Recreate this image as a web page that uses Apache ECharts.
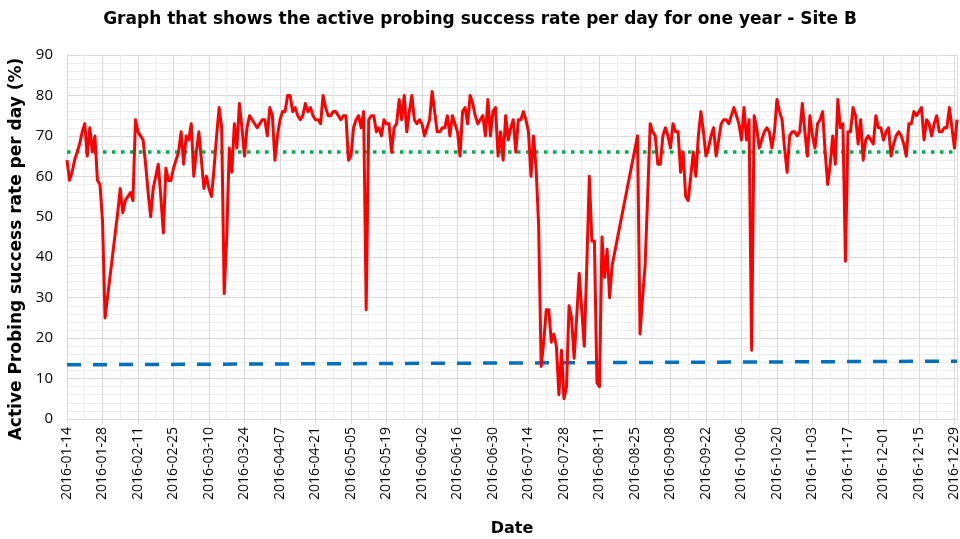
<!DOCTYPE html>
<html><head><meta charset="utf-8">
<script src="https://cdn.jsdelivr.net/npm/echarts@6/dist/echarts.min.js"></script>
<style>html,body{margin:0;padding:0;background:#fff}#c{width:960px;height:539px}</style>
</head><body><div id="c"></div>
<script>
// Daily success rate (%), 2016-01-14 .. 2016-12-30; null = no measurement that day
const startDate = '2016-01-14';
const jan = [64,59,61,64,66,68,71,73,65,72,66,70,59,58,49,25,null,null]; // Jan 14-31
const feb = [null,null,51,57,51,54,55,56,54,74,71,70,69,63,56,50,57,60,63,55,46,62,59,59,62,64,66,71,63];
const mar = [70,69,73,60,66,71,64,57,60,57,55,62,70,77,72,31,45,67,61,73,67,78,72,65,72,75,74,73,72,73,74];
const apr = [74,70,77,75,64,70,74,76,76,80,80,76,77,75,74,75,78,76,77,75,74,74,73,80,77,75,75,76,76,75];
const may = [74,75,75,64,65,72,74,75,72,76,27,74,75,75,71,72,70,74,73,73,66,72,73,79,74,80,71,76,80,74,73];
const jun = [74,73,70,72,74,81,76,71,71,72,72,75,70,75,73,71,65,76,77,73,80,78,75,73,74,75,70,79,70,76];
const jul = [77,65,71,64,75,69,72,74,66,74,74,76,74,71,60,70,62,48,13,19,27,27,19,21,18,6,17,5,8,28,25];
const aug = [15,25,36,27,18,38,60,44,44,9,8,45,35,42,30,38,null,null,null,null,null,null,null,null,null,70,21,30,38,55,73];
const sep = [71,70,63,63,70,72,70,67,73,71,71,61,66,55,54,60,66,60,70,76,71,65,67,70,72,65,69,73,74,74];
const oct = [73,75,77,75,73,69,77,69,74,17,75,72,67,69,71,72,71,67,71,79,76,74,67,61,70,71,71,70,71,78,71];
const nov = [65,75,70,67,73,74,76,66,58,63,70,63,79,72,73,39,71,71,77,75,68,74,64,69,70,69,68,75,72,72];
const dec = [69,71,72,65,68,70,71,70,68,65,73,73,76,75,76,77,69,74,73,70,73,75,71,71,72,72,77,72,67,74]; // Dec 1-30

const targetLevel = [66, 66];        // green dotted reference line
const trendEnds = [13.4, 14.3];      // blue dashed trend line (start, end)
const tickStepDays = 14;

const values = [].concat(jan, feb, mar, apr, may, jun, jul, aug, sep, oct, nov, dec);
const lastDay = values.length - 1;
const series1 = values.map((v, i) => [i, v]);
const t0 = Date.UTC(2016, 0, 14);
function dayLabel(d) {
  if (d % tickStepDays !== 0) return '';
  return new Date(t0 + d * 86400000).toISOString().slice(0, 10);
}

const chart = echarts.init(document.getElementById('c'), null, {renderer: 'canvas'});
const FONT = 'Open Sans';
const BOLD = 'DejaVu Sans';
chart.setOption({
  animation: false,
  backgroundColor: '#ffffff',
  title: {
    text: 'Graph that shows the active probing success rate per day for one year - Site B',
    left: 'center', top: 6,
    textStyle: {fontFamily: BOLD, fontSize: 17, fontWeight: 'bold', color: '#000'}
  },
  grid: {left: 67, right: 3, top: 55, bottom: 120, containLabel: false, outerBoundsMode: 'none'},
  xAxis: {
    type: 'value', min: 0, max: lastDay, interval: tickStepDays,
    name: 'Date', nameLocation: 'middle', nameGap: 102,
    nameTextStyle: {fontFamily: BOLD, fontSize: 16, fontWeight: 'bold', color: '#000'},
    axisLine: {show: true, lineStyle: {color: '#d9d9d9', width: 1}},
    axisTick: {show: true, length: 5, lineStyle: {color: '#d9d9d9'}},
    axisLabel: {rotate: 90, formatter: dayLabel, fontFamily: FONT, fontSize: 14, color: '#000', margin: 8, showMaxLabel: false},
    splitLine: {show: true, lineStyle: {color: '#d9d9d9', width: 1}},
    minorTick: {show: false, splitNumber: 2},
    minorSplitLine: {show: true, lineStyle: {color: '#eeeeee', width: 1}}
  },
  yAxis: {
    type: 'value', min: 0, max: 90, interval: 10,
    name: 'Active Probing success rate per day (%)', nameLocation: 'middle', nameGap: 39,
    nameTextStyle: {fontFamily: BOLD, fontSize: 17, fontWeight: 'bold', color: '#000', padding: [0, 24, 0, 0]},
    axisLine: {show: true, lineStyle: {color: '#d9d9d9', width: 1}},
    axisTick: {show: false},
    axisLabel: {fontFamily: FONT, fontSize: 15, color: '#000', margin: 14},
    splitLine: {show: true, lineStyle: {color: '#d9d9d9', width: 1}},
    minorTick: {show: false, splitNumber: 5},
    minorSplitLine: {show: true, lineStyle: {color: '#eeeeee', width: 1}}
  },
  series: [
    {
      type: 'line', data: [[0, targetLevel[0]], [lastDay, targetLevel[1]]],
      showSymbol: false, silent: true, z: 2,
      lineStyle: {color: '#00B050', width: 3.5, type: [3.5, 5.5]}
    },
    {
      type: 'line', data: [[0, trendEnds[0]], [lastDay, trendEnds[1]]],
      showSymbol: false, silent: true, z: 2,
      lineStyle: {color: '#0070C0', width: 3.5, type: [14, 12]}
    },
    {
      type: 'line', data: series1, connectNulls: true,
      showSymbol: false, z: 3,
      lineStyle: {color: '#FF0000', width: 3, join: 'round'}
    }
  ]
});
</script></body></html>
